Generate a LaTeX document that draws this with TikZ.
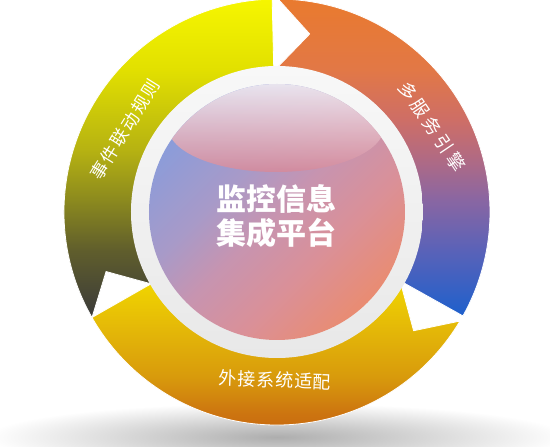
\documentclass[tikz,border=0pt]{standalone}
\usepackage{fontspec}
\newfontfamily\cjk{Noto Sans CJK SC}
\definecolor{L1}{HTML}{F6F600}
\definecolor{L2}{HTML}{E2E000}
\definecolor{L3}{HTML}{B6B212}
\definecolor{L4}{HTML}{8C8A1E}
\definecolor{L5}{HTML}{605E2C}
\definecolor{L6}{HTML}{3A3A3A}
\definecolor{R1}{HTML}{E97A2E}
\definecolor{R2}{HTML}{E27846}
\definecolor{R3}{HTML}{CE6E66}
\definecolor{R4}{HTML}{B06A84}
\definecolor{R5}{HTML}{8A66A2}
\definecolor{R6}{HTML}{5A62B8}
\definecolor{R7}{HTML}{1E60CC}
\definecolor{B1}{HTML}{F0D400}
\definecolor{B2}{HTML}{E4B808}
\definecolor{B3}{HTML}{D89A0C}
\definecolor{B4}{HTML}{CC7410}
\definecolor{B5}{HTML}{C45A10}
\definecolor{D1}{HTML}{8A9CDA}
\definecolor{D2}{HTML}{A89AC8}
\definecolor{D3}{HTML}{C794B0}
\definecolor{D4}{HTML}{DA9098}
\definecolor{D5}{HTML}{E98C72}
\definecolor{ringTop}{HTML}{F8F8F8}
\definecolor{ringBot}{HTML}{E8E8E8}
\definecolor{hlTop}{HTML}{F2EEF4}
\definecolor{hlBot}{HTML}{D48A9C}
\pgfdeclareverticalshading{segL}{100bp}{color(0bp)=(L6); color(25bp)=(L6); color(35.6bp)=(L5); color(43.5bp)=(L4); color(51.3bp)=(L3); color(64bp)=(L2); color(75bp)=(L1); color(100bp)=(L1)}
\pgfdeclareverticalshading{segR}{100bp}{color(0bp)=(R7); color(25bp)=(R7); color(35.4bp)=(R6); color(43.4bp)=(R5); color(49.7bp)=(R4); color(56bp)=(R3); color(63.9bp)=(R2); color(75bp)=(R1); color(100bp)=(R1)}
\pgfdeclareverticalshading{segB}{100bp}{color(0bp)=(B5); color(25bp)=(B5); color(37bp)=(B4); color(47.7bp)=(B3); color(61.9bp)=(B2); color(75bp)=(B1); color(100bp)=(B1)}
\pgfdeclarehorizontalshading{diskshade}{100bp}{color(0bp)=(D1); color(25bp)=(D1); color(40bp)=(D2); color(50bp)=(D3); color(62bp)=(D4); color(75bp)=(D5); color(100bp)=(D5)}
\tikzset{
  seg/.style={shade, draw=white, line width=0.8pt},
  arclabel/.style={text=white, inner sep=0pt, font=\cjk\fontsize{18}{18}\selectfont},
  centerlabel/.style={text=white, inner sep=0pt, font=\cjk\bfseries\fontsize{30}{30}\selectfont},
}
\begin{document}
\begin{tikzpicture}[x=1pt,y=1pt]
\useasboundingbox (-277,-235) rectangle (273,212);
% shadow
\path[shade, inner color=black!32, outer color=white] (0,-225) ellipse[x radius=290, y radius=34];
% left segment
\path[seg, shading=segL] (209.7:213) arc[start angle=209.7, end angle=91.3, radius=213]
  -- (91.3:145) arc[start angle=91.3, end angle=209.7, radius=145] -- (199.2:181) -- cycle;
% right segment
\path[seg, shading=segR] (89.7:213) arc[start angle=89.7, end angle=-29.2, radius=213]
  -- (-29.2:145) arc[start angle=-29.2, end angle=89.7, radius=145] -- (79.6:181) -- cycle;
% bottom segment
\path[seg, shading=segB] (-30.8:213) arc[start angle=-30.8, end angle=-150.3, radius=213]
  -- (-150.3:145) arc[start angle=-150.3, end angle=-30.8, radius=145] -- (-41:181) -- cycle;
% white ring
\path[shade, top color=ringTop, bottom color=ringBot] (0,0) circle[radius=146];
% disk
\path[shade, shading=diskshade, shading angle=-45] (0,0) circle[radius=128];
\begin{scope}
  \clip (0,0) circle[radius=128];
  \path[shade, top color=hlTop, bottom color=hlBot, opacity=0.9] (-1,85) ellipse[x radius=108, y radius=45];
\end{scope}
% labels
\node[arclabel, font=\cjk\fontsize{17.5}{17.5}\selectfont, rotate=58] (l1) at (151.5:173) {\addfontfeatures{LetterSpace=11}事件联动规则};
\node[arclabel, rotate=-56] (l2) at (28.9:177) {\addfontfeatures{LetterSpace=20}多服务引擎};
\node[arclabel, rotate=-2] (l3) at (-90.7:168) {\addfontfeatures{LetterSpace=5}外接系统适配};
\node[centerlabel] (t1) at (0,13.5) {监控信息};
\node[centerlabel] (t2) at (0,-20.5) {集成平台};
\end{tikzpicture}
\end{document}
